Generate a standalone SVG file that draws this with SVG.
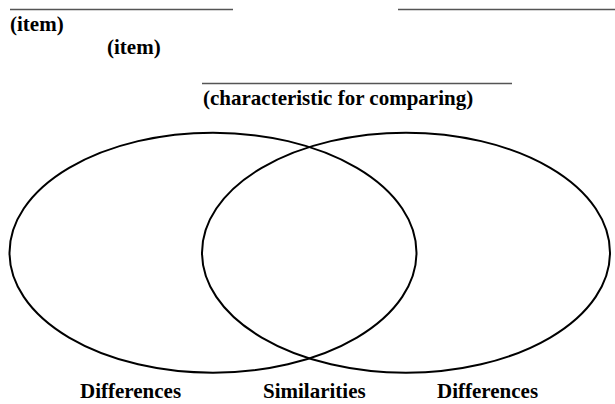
<svg xmlns="http://www.w3.org/2000/svg" width="615" height="404" viewBox="0 0 615 404">
<style>
.ln{stroke:#555;stroke-width:1.3;fill:none}
.el{stroke:#000;stroke-width:2;fill:none}
</style>
<rect width="615" height="404" fill="#fff"/>
<g id="blanks">
<line class="ln" x1="10" y1="9.5" x2="233" y2="9.5"/>
<line class="ln" x1="398" y1="9.5" x2="615" y2="9.5"/>
<line class="ln" x1="202" y1="83.5" x2="512" y2="83.5"/>
</g>
<g id="labels" font-family="Liberation Serif" font-weight="bold" font-size="21" fill="#000">
<text x="10" y="31">(item)</text>
<text x="107" y="54">(item)</text>
<text x="203" y="105">(characteristic for comparing)</text>
</g>
<g id="left-circle"><ellipse class="el" cx="213" cy="252.7" rx="203.5" ry="120"/></g>
<g id="right-circle"><ellipse class="el" cx="406" cy="252.7" rx="204" ry="120"/></g>
<g id="captions" font-family="Liberation Serif" font-weight="bold" font-size="21" fill="#000">
<text x="80" y="398">Differences</text>
<text x="263" y="398">Similarities</text>
<text x="437" y="398">Differences</text>
</g>
</svg>
